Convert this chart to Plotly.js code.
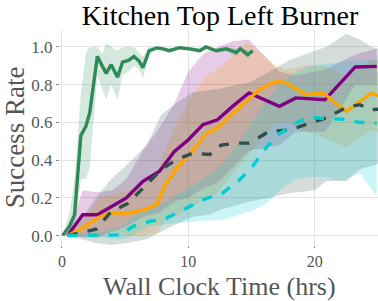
<!DOCTYPE html>
<html><head><meta charset="utf-8">
<script src="https://cdn.plot.ly/plotly-3.0.1.min.js"></script>
<style>html,body{margin:0;padding:0;background:#fff}#plot{width:378px;height:301px}</style>
</head><body><div id="plot"></div>
<script>
// Green (fast)
const greenX = [0.06,0.6,1.0,1.5,1.9,2.2,2.8,3.2,3.5,3.9,4.4,4.8,5.3,5.7,6.1,6.4,6.9,7.5,8.0,8.5,9.3,10.1,10.9,11.4,12.2,13.0,13.8,14.1,14.7,15.1];
const greenY = [0,0.05,0.11,0.53,0.58,0.65,0.95,0.9,0.86,0.906,0.84,0.92,0.93,0.95,0.925,0.89,0.98,0.995,0.99,0.98,0.996,0.99,0.98,1.0,0.98,0.99,0.97,0.99,0.96,0.98];
const greenU = [0,0.12,0.3,0.75,0.97,1.0,1.0,0.96,1.02,1.0,0.98,1.0,1.0,1.0,0.97,0.95,1.0,1.0,1.0,0.99,1.0,1.0,0.99,1.0,0.99,1.0,0.99,1.0,0.98,0.99];
const greenL = [0,0.0,0.02,0.3,0.3,0.36,0.85,0.78,0.72,0.8,0.72,0.85,0.87,0.9,0.88,0.83,0.96,0.99,0.98,0.97,0.99,0.98,0.97,1.0,0.97,0.98,0.95,0.98,0.94,0.97];
// Purple
const purpleX = [0.45,1.65,2.8,4.0,5.1,6.4,7.7,8.9,10.0,11.15,12.3,13.5,14.8,17.2,18.5,20.8,23.2,24.9];
const purpleY = [0,0.11,0.11,0.155,0.20,0.287,0.34,0.446,0.508,0.588,0.614,0.685,0.756,0.685,0.73,0.72,0.894,0.897];
const purpleU = [0,0.24,0.23,0.24,0.3,0.45,0.57,0.70,0.87,0.96,1.0,1.03,1.04,0.87,0.85,0.88,0.96,0.99];
const purpleL = [0,-0.01,-0.01,0.02,0.05,0.1,0.12,0.18,0.2,0.25,0.28,0.36,0.45,0.48,0.55,0.55,0.8,0.8];
// Orange
const orangeX = [0.45,1.65,3.0,4.0,5.3,6.5,7.5,8.1,9.0,10.1,11.4,12.3,13.4,14.6,15.6,16.95,17.75,19.3,20.65,22.5,24.5,25];
const orangeY = [0,0.04,0.10,0.12,0.12,0.136,0.163,0.26,0.35,0.43,0.54,0.57,0.64,0.71,0.773,0.82,0.81,0.747,0.756,0.658,0.756,0.74];
const orangeU = [0,0.08,0.2,0.22,0.24,0.27,0.32,0.45,0.58,0.72,0.85,0.88,0.95,1.03,0.98,0.9,0.88,0.9,0.9,0.85,0.93,0.93];
const orangeL = [0,0.0,0.0,0.02,0.0,0.0,0.01,0.07,0.1,0.14,0.2,0.22,0.32,0.41,0.5,0.6,0.6,0.55,0.52,0.47,0.56,0.55];
// Dark slate gray dashed
const grayX = [0.45,1.65,2.7,3.9,5.2,6.7,7.85,9.0,10.35,11.7,12.6,13.8,14.8,16.4,18.0,20.0,20.9,22.5,23.55,24.5,25];
const grayY = [0,0.02,0.034,0.127,0.17,0.27,0.35,0.40,0.437,0.43,0.48,0.49,0.49,0.552,0.56,0.605,0.623,0.68,0.694,0.667,0.67];
const grayU = [0,0.1,0.2,0.3,0.38,0.48,0.64,0.7,0.76,0.77,0.78,0.8,0.81,0.87,0.93,0.98,1.0,1.07,1.04,1.0,0.99];
const grayL = [0,-0.02,-0.04,-0.05,-0.04,-0.02,0.02,0.06,0.1,0.11,0.14,0.16,0.18,0.2,0.225,0.24,0.29,0.29,0.35,0.37,0.38];
// Cyan dashed
const cyanX = [0.45,3.0,4.7,5.6,6.9,8.25,9.6,11.15,12.7,14.05,15.0,16.2,17.2,18.5,19.6,20.9,22.2,23.55,24.9];
const cyanY = [0,0,0.004,0.048,0.074,0.092,0.136,0.19,0.225,0.296,0.36,0.47,0.54,0.597,0.628,0.62,0.617,0.60,0.597];
const cyanU = [0,0.02,0.05,0.1,0.14,0.18,0.24,0.3,0.38,0.5,0.6,0.72,0.8,0.87,0.9,0.91,0.92,0.93,0.93];
const cyanL = [0,-0.01,-0.02,0.0,0.05,0.06,0.07,0.078,0.083,0.11,0.13,0.17,0.24,0.3,0.31,0.31,0.29,0.33,0.21];

const xTicks = [0,10,20];
const yTicks = [0,0.2,0.4,0.6,0.8,1.0];
const yTickText = ['0.0','0.2','0.4','0.6','0.8','1.0'];

function band(x,u,l,rgb){
  return {x: x.concat(x.slice().reverse()), y: u.concat(l.slice().reverse()),
    type:'scatter', mode:'lines', fill:'toself', fillcolor:'rgba('+rgb+',0.2)',
    line:{width:0,color:'rgba(0,0,0,0)'}, hoverinfo:'skip', showlegend:false};
}
function line(x,y,color,dash,w){
  return {x:x,y:y,type:'scatter',mode:'lines',line:{color:color,width:w||3.4,dash:dash||'solid'},showlegend:false};
}
const S = [
  {x:purpleX,y:purpleY,u:purpleU,l:purpleL,rgb:'128,0,128',c:'#800080',d:'solid'},
  {x:orangeX,y:orangeY,u:orangeU,l:orangeL,rgb:'255,165,0',c:'#ffa500',d:'solid'},
  {x:grayX,y:grayY,u:grayU,l:grayL,rgb:'47,79,79',c:'#2f4f4f',d:'dash'},
  {x:cyanX,y:cyanY,u:cyanU,l:cyanL,rgb:'0,206,209',c:'#00ced1',d:'dash'},
  {x:greenX,y:greenY,u:greenU,l:greenL,rgb:'46,139,87',c:'#2e8b57',d:'solid'}
];
const traces = [];
S.forEach(s=>traces.push(band(s.x,s.u,s.l,s.rgb)));
S.forEach(s=>traces.push(line(s.x,s.y,s.c,s.d,3.4)));

const font = 'Liberation Serif, Times New Roman, serif';
const layout = {
  width:378, height:301,
  margin:{l:60,r:0,t:30,b:56},
  paper_bgcolor:'#fff', plot_bgcolor:'#fff',
  showlegend:false,
  title:{text:'Kitchen Top Left Burner', font:{family:font,size:28,color:'#000'}, x:0.582, xanchor:'center', y:0.948, yanchor:'middle'},
  xaxis:{range:[-0.15,25], tickvals:xTicks, ticktext:xTicks.map(String), showgrid:true, gridcolor:'#e3e3e3', gridwidth:1,
    zeroline:false, ticks:'outside', ticklen:2, tickcolor:'#888', tickfont:{family:font,size:16,color:'#555'}, showline:false},
  yaxis:{range:[-0.05,1.09], tickvals:yTicks, ticktext:yTickText, showgrid:true, gridcolor:'#e3e3e3', gridwidth:1,
    zeroline:false, ticks:'outside', ticklen:3, tickcolor:'#888', tickfont:{family:font,size:17,color:'#555'}, showline:false},
  annotations:[
    {text:'Wall Clock Time (hrs)', xref:'paper', yref:'paper', x:0.503, y:-0.191, xanchor:'center', yanchor:'middle', showarrow:false, font:{family:font,size:26,color:'#555'}},
    {text:'Success Rate', xref:'paper', yref:'paper', x:-0.142, y:0.5, xanchor:'center', yanchor:'middle', textangle:-90, showarrow:false, font:{family:font,size:27,color:'#555'}}
  ]
};
Plotly.newPlot('plot', traces, layout, {displayModeBar:false, staticPlot:true});
</script></body></html>
